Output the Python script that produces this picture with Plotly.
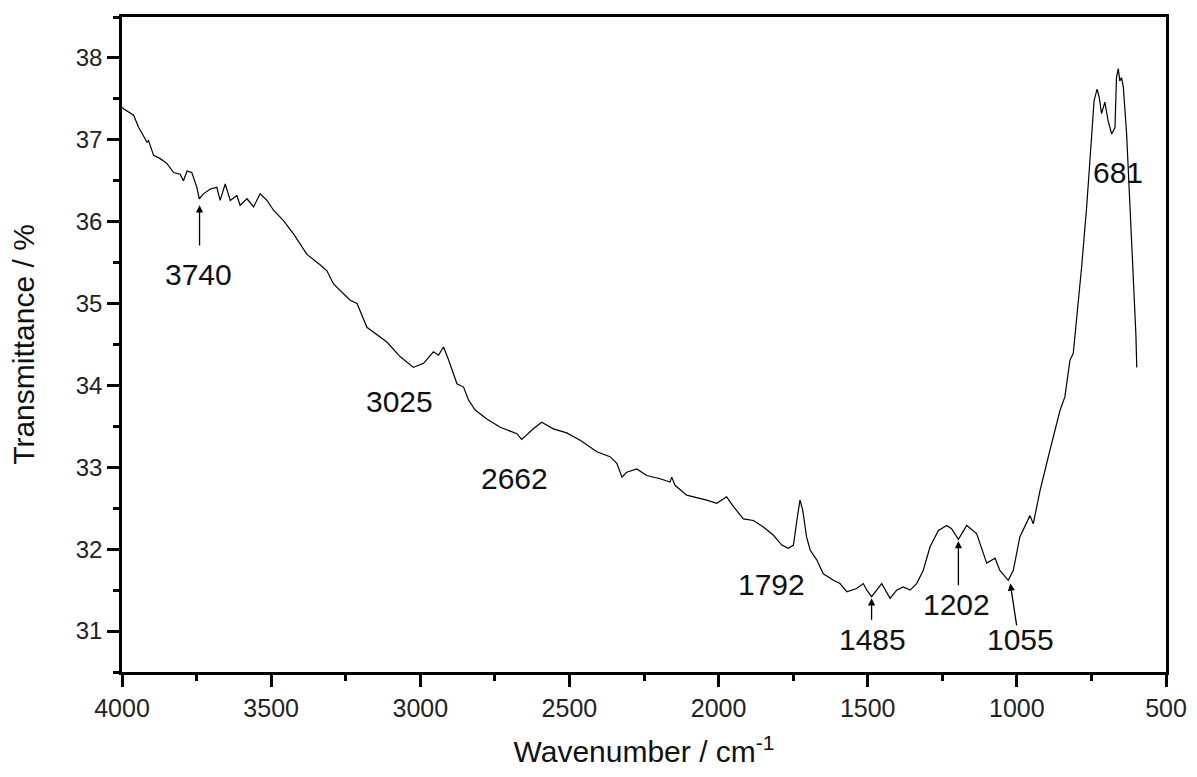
import plotly.graph_objects as go

# Spectrum (wavenumber in cm-1, transmittance in %)
wavenumber = [4000, 3995, 3961, 3944, 3916, 3911, 3894, 3872, 3849, 3827, 3805, 3794, 3782, 3766,
              3749, 3741, 3727, 3704, 3682, 3671, 3654, 3637, 3615, 3604, 3581, 3559, 3537, 3514,
              3492, 3458, 3425, 3391, 3380, 3335, 3313, 3291, 3268, 3235, 3212, 3179, 3112, 3067,
              3023, 2989, 2956, 2939, 2922, 2905, 2877, 2855, 2838, 2816, 2777, 2732, 2676, 2660,
              2621, 2593, 2554, 2509, 2464, 2408, 2364, 2341, 2324, 2308, 2274, 2241, 2196, 2163,
              2157, 2146, 2107, 2062, 2040, 2006, 1973, 1950, 1917, 1883, 1850, 1816, 1788, 1766,
              1749, 1736, 1727, 1718, 1705, 1693, 1671, 1649, 1615, 1593, 1570, 1537, 1515, 1503,
              1487, 1470, 1453, 1425, 1403, 1381, 1358, 1336, 1314, 1291, 1263, 1235, 1219, 1196,
              1168, 1135, 1101, 1073, 1057, 1029, 1012, 990, 956, 945, 922, 889, 855, 839, 822,
              811, 800, 783, 766, 749, 741, 731, 724, 716, 705, 694, 682, 671, 666, 660, 655, 649,
              643, 632, 621, 610, 601, 598]
transmittance = [37.40, 37.38, 37.30, 37.15, 36.97, 36.99, 36.81, 36.77, 36.71, 36.60, 36.58, 36.50,
                 36.62, 36.60, 36.42, 36.28, 36.34, 36.40, 36.42, 36.26, 36.46, 36.26, 36.32, 36.20,
                 36.28, 36.18, 36.34, 36.26, 36.14, 36.01, 35.85, 35.66, 35.60, 35.47, 35.40, 35.24,
                 35.16, 35.04, 35.00, 34.71, 34.53, 34.35, 34.22, 34.27, 34.41, 34.37, 34.47, 34.31,
                 34.02, 33.98, 33.82, 33.70, 33.59, 33.49, 33.41, 33.34, 33.47, 33.55, 33.47, 33.42,
                 33.33, 33.19, 33.13, 33.05, 32.88, 32.94, 32.98, 32.90, 32.86, 32.82, 32.88, 32.78,
                 32.66, 32.62, 32.60, 32.56, 32.64, 32.52, 32.37, 32.35, 32.27, 32.17, 32.05, 32.01,
                 32.05, 32.39, 32.60, 32.48, 32.15, 31.99, 31.87, 31.70, 31.62, 31.58, 31.48, 31.52,
                 31.58, 31.50, 31.42, 31.50, 31.58, 31.40, 31.50, 31.54, 31.50, 31.58, 31.74, 32.03,
                 32.23, 32.29, 32.25, 32.12, 32.29, 32.19, 31.83, 31.89, 31.74, 31.62, 31.74, 32.15,
                 32.41, 32.31, 32.72, 33.21, 33.70, 33.86, 34.31, 34.39, 34.79, 35.44, 36.18, 36.99,
                 37.48, 37.62, 37.52, 37.32, 37.46, 37.23, 37.07, 37.15, 37.76, 37.87, 37.72, 37.76,
                 37.64, 37.07, 36.26, 35.44, 34.63, 34.22]

# Peak labels: text, label position
label_text = ["3740", "3025", "2662", "1792", "1485", "1202", "1055", "681"]
label_x = [3743, 3070, 2685, 1822, 1484, 1202, 987, 660]
label_y = [35.36, 33.80, 32.86, 31.57, 30.90, 31.32, 30.90, 36.60]

# Arrows: tail (x0, y0) -> head (x1, y1)
arrow_x0 = [3740, 1487, 1196, 1000]
arrow_y0 = [35.69, 31.12, 31.54, 31.05]
arrow_x1 = [3740, 1487, 1196, 1022]
arrow_y1 = [36.20, 31.40, 32.10, 31.58]

x_ticks = [4000, 3500, 3000, 2500, 2000, 1500, 1000, 500]
y_ticks = [31, 32, 33, 34, 35, 36, 37, 38]

FONT = "Arial, Liberation Sans, sans-serif"

fig = go.Figure()
fig.add_trace(go.Scatter(x=wavenumber, y=transmittance, mode="lines",
                         line=dict(color="black", width=1.2), showlegend=False,
                         hoverinfo="skip"))

for t, x, y in zip(label_text, label_x, label_y):
    fig.add_annotation(x=x, y=y, text=t, showarrow=False,
                       font=dict(family=FONT, size=30, color="#111"))

for x0, y0, x1, y1 in zip(arrow_x0, arrow_y0, arrow_x1, arrow_y1):
    fig.add_annotation(x=x1, y=y1, ax=x0, ay=y0, axref="x", ayref="y", xref="x", yref="y",
                       text="", showarrow=True, arrowhead=2, arrowsize=1.1,
                       arrowwidth=1.3, arrowcolor="black", standoff=0)

fig.update_layout(
    width=1197, height=777,
    margin=dict(l=122, r=31, t=17, b=105),
    paper_bgcolor="white", plot_bgcolor="white",
    font=dict(family=FONT, color="#111"),
    xaxis=dict(range=[4000, 500], tickvals=x_ticks, ticks="outside", ticklen=12,
               tickwidth=2.5, tickcolor="black", showline=True, linewidth=2.5,
               linecolor="black", mirror=True, showgrid=False, zeroline=False,
               automargin=False,
               tickfont=dict(family=FONT, size=25, color="#222"),
               minor=dict(dtick=250, ticks="outside", ticklen=6, tickwidth=2.5,
                          tickcolor="black", showgrid=False),
               title=dict(text="Wavenumber / cm<sup>-1</sup>", standoff=21,
                          font=dict(family=FONT, size=30, color="#111"))),
    yaxis=dict(range=[30.5, 38.5], tickvals=y_ticks, ticks="outside", ticklen=12,
               tickwidth=2.5, tickcolor="black", showline=True, linewidth=2.5,
               linecolor="black", mirror=True, showgrid=False, zeroline=False,
               automargin=False,
               tickfont=dict(family=FONT, size=24, color="#222"),
               minor=dict(dtick=0.5, ticks="outside", ticklen=6, tickwidth=2.5,
                          tickcolor="black", showgrid=False),
               title=dict(text="Transmittance / %", standoff=33,
                          font=dict(family=FONT, size=30, color="#111"))),
)

fig.write_html("out.html")
